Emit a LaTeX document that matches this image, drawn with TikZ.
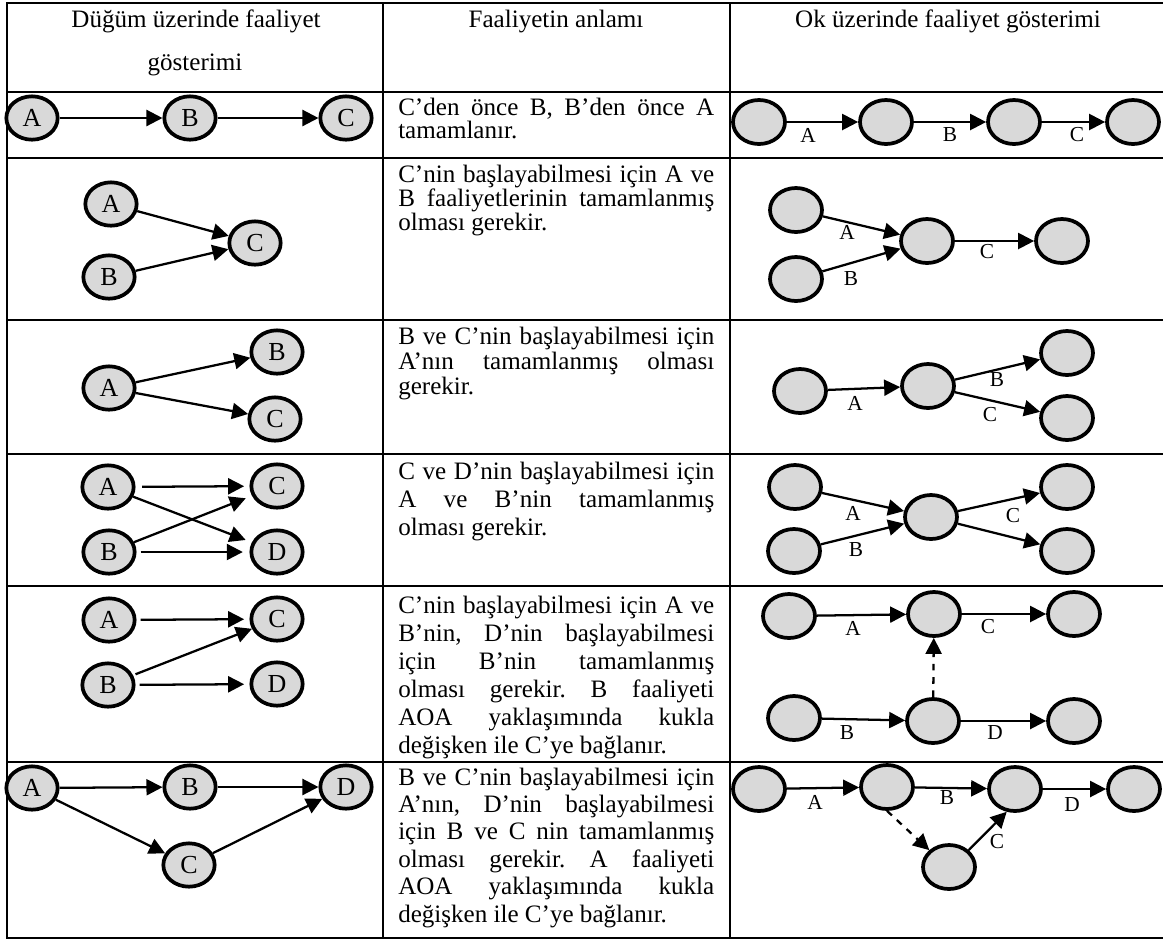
\documentclass[tikz,border=0pt]{standalone}
\usepackage{fontspec}
\setmainfont{Liberation Serif}
\usetikzlibrary{arrows.meta,shapes.geometric}

\definecolor{nodegray}{HTML}{D9D9D9}
\frenchspacing

% one justified line, and a cell of the middle column
\newcommand{\jline}[1]{\makebox[\linewidth][s]{#1}\\}
\newcommand{\celltext}[2]{\parbox[t]{237pt}{\fontsize{18.8}{#1}\selectfont\lineskiplimit=-20pt #2}}

\tikzset{
  tabline/.style={line width=1.6pt, line cap=rect},
  act/.style={ellipse, draw, line width=2.8pt, fill=nodegray, minimum width=38.5pt,
    minimum height=32.5pt, inner sep=0pt, font=\fontsize{19.5}{19.5}\selectfont},
  ev/.style={act, minimum width=39pt, minimum height=33pt},
  arr/.style={-{Triangle[length=12pt,width=12pt]}, line width=1.7pt},
  dummy/.style={arr, dash pattern=on 5pt off 5pt},
  lbl/.style={inner sep=0pt, font=\fontsize{16}{16}\selectfont},
  headtxt/.style={anchor=base, inner sep=0pt, font=\fontsize{18.8}{22}\selectfont},
  cell/.style={anchor=base west, inner sep=0pt}
}

\begin{document}
\begin{tikzpicture}[x=0.75pt,y=-0.75pt]
  \useasboundingbox (0,0) rectangle (1163,940);

  % Table
  \foreach \yy in {3,92,158,320,454,586,762,938}
    \draw[tabline] (7,\yy) -- (1163,\yy);
  \foreach \xx in {7,383,730}
    \draw[tabline] (\xx,3) -- (\xx,938);

  % Headers
  \node[headtxt] (h1a) at (196,27) {Düğüm üzerinde faaliyet};
  \node[headtxt] (h1b) at (195,70) {gösterimi};
  \node[headtxt] (h2) at (556,27) {Faaliyetin anlamı};
  \node[headtxt] (h3) at (948,27) {Ok üzerinde faaliyet gösterimi};

  % Row 1
  \node[act] (r1A) at (32,118) {A};
  \node[act] (r1B) at (190,118) {B};
  \node[act] (r1C) at (346,118) {C};
  \draw[arr] (r1A) -- (r1B);
  \draw[arr] (r1B) -- (r1C);
  \node[cell] (t1) at (398,115) {\celltext{17.25pt}{\jline{C’den önce B, B’den önce A}tamamlanır.}};
  \node[ev] (r1e1) at (759,122) {};
  \node[ev] (r1e2) at (886,122) {};
  \node[ev] (r1e3) at (1014,122) {};
  \node[ev] (r1e4) at (1133,122) {};
  \draw[arr] (r1e1) -- (r1e2);
  \draw[arr] (r1e2) -- (r1e3);
  \draw[arr] (r1e3) -- (r1e4);
  \node[lbl] (r1la) at (808,135) {A};
  \node[lbl] (r1lb) at (950,135) {B};
  \node[lbl] (r1lc) at (1077,135) {C};

  % Row 2
  \node[act] (r2A) at (111,204) {A};
  \node[act] (r2B) at (109,277) {B};
  \node[act] (r2C) at (255,243) {C};
  \draw[arr] (r2A) -- (r2C);
  \draw[arr] (r2B) -- (r2C);
  \node[cell] (t2) at (398,182) {\celltext{18pt}{\jline{C’nin başlayabilmesi için A ve}\jline{B faaliyetlerinin tamamlanmış}olması gerekir.}};
  \node[ev] (r2e1) at (796,210) {};
  \node[ev] (r2e2) at (796,279) {};
  \node[ev] (r2e3) at (927,241) {};
  \node[ev] (r2e4) at (1062,241) {};
  \draw[arr] (r2e1) -- (r2e3);
  \draw[arr] (r2e2) -- (r2e3);
  \draw[arr] (r2e3) -- (r2e4);
  \node[lbl] (r2la) at (847,232) {A};
  \node[lbl] (r2lb) at (851,279) {B};
  \node[lbl] (r2lc) at (987,252) {C};

  % Row 3
  \node[act] (r3A) at (109,388) {A};
  \node[act] (r3B) at (277,352) {B};
  \node[act] (r3C) at (275,419) {C};
  \draw[arr] (r3A) -- (r3B);
  \draw[arr] (r3A) -- (r3C);
  \node[cell] (t3) at (398,344) {\celltext{18.75pt}{\jline{B ve C’nin başlayabilmesi için}\jline{A’nın tamamlanmış olması}gerekir.}};
  \node[ev] (r3e1) at (800,391) {};
  \node[ev] (r3e2) at (928,386) {};
  \node[ev] (r3e3) at (1067,353) {};
  \node[ev] (r3e4) at (1067,418) {};
  \draw[arr] (r3e1) -- (r3e2);
  \draw[arr] (r3e2) -- (r3e3);
  \draw[arr] (r3e2) -- (r3e4);
  \node[lbl] (r3la) at (855,403) {A};
  \node[lbl] (r3lb) at (997,380) {B};
  \node[lbl] (r3lc) at (990,415) {C};

  % Row 4
  \node[act] (r4A) at (108,487) {A};
  \node[act] (r4B) at (109,552) {B};
  \node[act] (r4C) at (277,486) {C};
  \node[act] (r4D) at (277,552) {D};
  \draw[arr, shorten <=5pt, shorten >=4pt] (r4A) -- (r4C);
  \draw[arr, shorten >=5pt] (r4A) -- (r4D);
  \draw[arr, shorten >=5pt] (r4B) -- (r4C);
  \draw[arr, shorten <=3pt, shorten >=5pt] (r4B) -- (r4D);
  \node[cell] (t4) at (398,479) {\celltext{21pt}{\jline{C ve D’nin başlayabilmesi için}\jline{A ve B’nin tamamlanmış}olması gerekir.}};
  \node[ev] (r4e1) at (795,487) {};
  \node[ev] (r4e2) at (794,551) {};
  \node[ev] (r4e3) at (931,517) {};
  \node[ev] (r4e4) at (1067,487) {};
  \node[ev] (r4e5) at (1067,551) {};
  \draw[arr] (r4e1) -- (r4e3);
  \draw[arr] (r4e2) -- (r4e3);
  \draw[arr] (r4e3) -- (r4e4);
  \draw[arr] (r4e3) -- (r4e5);
  \node[lbl] (r4la) at (853,513) {A};
  \node[lbl] (r4lb) at (856,550) {B};
  \node[lbl] (r4lc) at (1013,516) {C};

  % Row 5
  \node[act] (r5A) at (109,620) {A};
  \node[act] (r5B) at (108,685) {B};
  \node[act] (r5C) at (277,619) {C};
  \node[act] (r5D) at (277,684) {D};
  \draw[arr, shorten <=3pt, shorten >=4pt] (r5A) -- (r5C);
  \draw[arr, shorten <=2pt] (r5B) -- (r5C);
  \draw[arr, shorten <=3pt, shorten >=4pt] (r5B) -- (r5D);
  \node[cell] (t5) at (398,613) {\celltext{21pt}{\jline{C’nin başlayabilmesi için A ve}\jline{B’nin, D’nin başlayabilmesi}\jline{için B’nin tamamlanmış}\jline{olması gerekir. B faaliyeti}\jline{AOA yaklaşımında kukla}değişken ile C’ye bağlanır.}};
  \node[ev] (r5e1) at (789,616) {};
  \node[ev] (r5e2) at (934,614) {};
  \node[ev] (r5e3) at (1074,614) {};
  \node[ev] (r5e4) at (794,718) {};
  \node[ev] (r5e5) at (933,721) {};
  \node[ev] (r5e6) at (1074,721) {};
  \draw[arr] (r5e1) -- (r5e2);
  \draw[arr] (r5e2) -- (r5e3);
  \draw[arr] (r5e4) -- (r5e5);
  \draw[arr] (r5e5) -- (r5e6);
  \draw[dummy] (r5e5) -- (r5e2);
  \node[lbl] (r5la) at (853,628) {A};
  \node[lbl] (r5lc) at (988,627) {C};
  \node[lbl] (r5lb) at (847,733) {B};
  \node[lbl] (r5ld) at (995,733) {D};

  % Row 6
  \node[act] (r6A) at (32,788) {A};
  \node[act] (r6B) at (190,787) {B};
  \node[act] (r6D) at (346,787) {D};
  \node[act] (r6C) at (189,865) {C};
  \draw[arr] (r6A) -- (r6B);
  \draw[arr] (r6B) -- (r6D);
  \draw[arr] (r6A) -- (r6C);
  \draw[arr] (r6C) -- (r6D);
  \node[cell] (t6) at (398,785) {\celltext{20.6pt}{\jline{B ve C’nin başlayabilmesi için}\jline{A’nın, D’nin başlayabilmesi}\jline{için B ve C nin tamamlanmış}\jline{olması gerekir. A faaliyeti}\jline{AOA yaklaşımında kukla}değişken ile C’ye bağlanır.}};
  \node[ev] (r6e1) at (759,789) {};
  \node[ev] (r6e2) at (887,787) {};
  \node[ev] (r6e3) at (1015,789) {};
  \node[ev] (r6e4) at (1134,789) {};
  \node[ev] (r6e5) at (949,867) {};
  \draw[arr] (r6e1) -- (r6e2);
  \draw[arr] (r6e2) -- (r6e3);
  \draw[arr] (r6e3) -- (r6e4);
  \draw[dummy] (r6e2.south) -- (r6e5.north west);
  \draw[arr] (r6e5.north east) -- (r6e3.250);
  \node[lbl] (r6la) at (815,802) {A};
  \node[lbl] (r6lb) at (947,798) {B};
  \node[lbl] (r6ld) at (1072,805) {D};
  \node[lbl] (r6lc) at (997,842) {C};
\end{tikzpicture}
\end{document}
